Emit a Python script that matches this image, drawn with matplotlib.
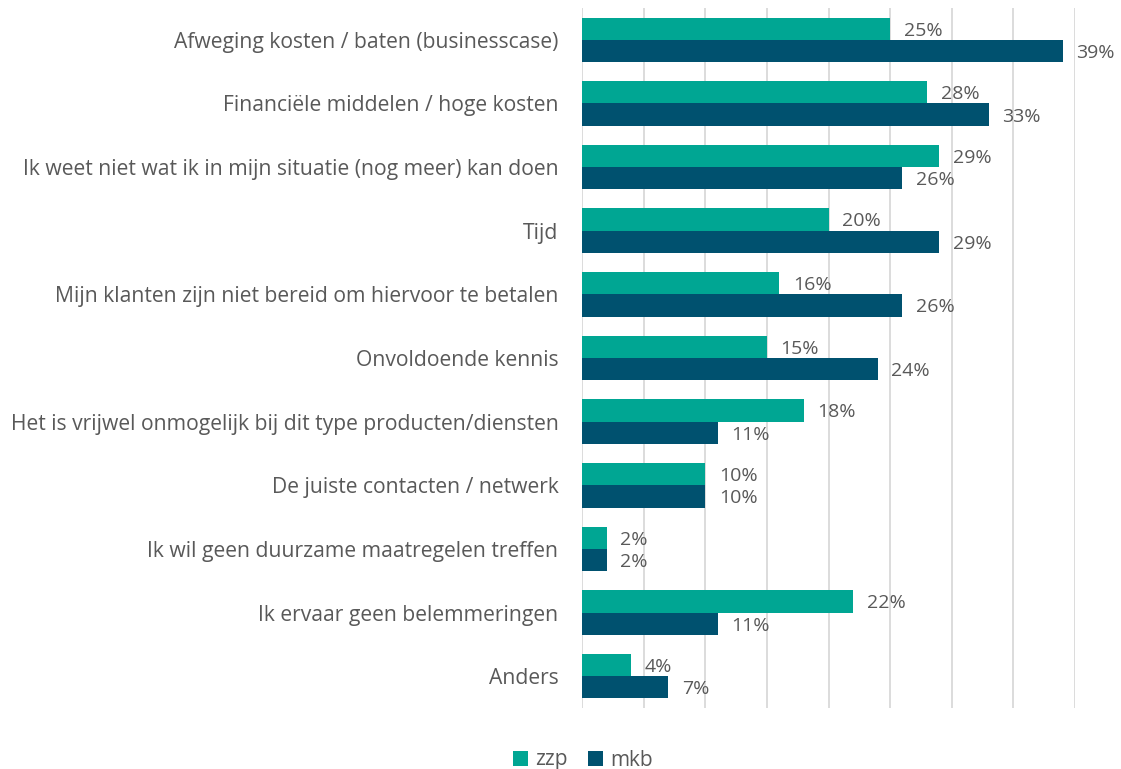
import matplotlib
matplotlib.use("Agg")
from matplotlib import pyplot as plt
import numpy as np

plt.rcParams['font.family'] = ['Open Sans', 'DejaVu Sans']

categories = [
    "Afweging kosten / baten (businesscase)",
    "Financiële middelen / hoge kosten",
    "Ik weet niet wat ik in mijn situatie (nog meer) kan doen",
    "Tijd",
    "Mijn klanten zijn niet bereid om hiervoor te betalen",
    "Onvoldoende kennis",
    "Het is vrijwel onmogelijk bij dit type producten/diensten",
    "De juiste contacten / netwerk",
    "Ik wil geen duurzame maatregelen treffen",
    "Ik ervaar geen belemmeringen",
    "Anders",
]
zzp = [25, 28, 29, 20, 16, 15, 18, 10, 2, 22, 4]
mkb = [39, 33, 26, 29, 26, 24, 11, 10, 2, 11, 7]

c_zzp = "#00A693"
c_mkb = "#00516F"
grey = "#595959"

fig = plt.figure(figsize=(11.21, 7.69), dpi=100)
ax = fig.add_axes([582/1121, 61/769, 493/1121, 700/769])

y = np.arange(len(categories))
h = 0.35
ax.barh(y - h/2, zzp, height=h, color=c_zzp, label="zzp", zorder=3)
ax.barh(y + h/2, mkb, height=h, color=c_mkb, label="mkb", zorder=3)

for i in range(len(categories)):
    ax.text(zzp[i] + 1.1, y[i] - h/2 + 0.03, f"{zzp[i]}%", va="center", ha="left",
            fontsize=14, color=grey)
    ax.text(mkb[i] + 1.1, y[i] + h/2 + 0.03, f"{mkb[i]}%", va="center", ha="left",
            fontsize=14, color=grey)

ax.set_xlim(0, 40)
ax.set_ylim(len(categories) - 0.5, -0.5)
ax.set_xticks(np.arange(0, 41, 5))
ax.set_xticklabels([])
ax.set_yticks(y)
ax.set_yticklabels(categories, fontsize=15.2, color=grey)
ax.tick_params(axis="both", length=0)
ax.tick_params(axis="y", pad=17)
ax.grid(axis="x", color="#D9D9D9", linewidth=1.3, zorder=0)
for s in ax.spines.values():
    s.set_visible(False)

fig.legend(loc="center", bbox_to_anchor=(583/1121, 9/769), ncol=2, frameon=False,
           fontsize=15, handlelength=0.7, handleheight=0.7, handletextpad=0.35,
           columnspacing=1.0, labelcolor=grey)

fig.savefig("out.png", dpi=100)
